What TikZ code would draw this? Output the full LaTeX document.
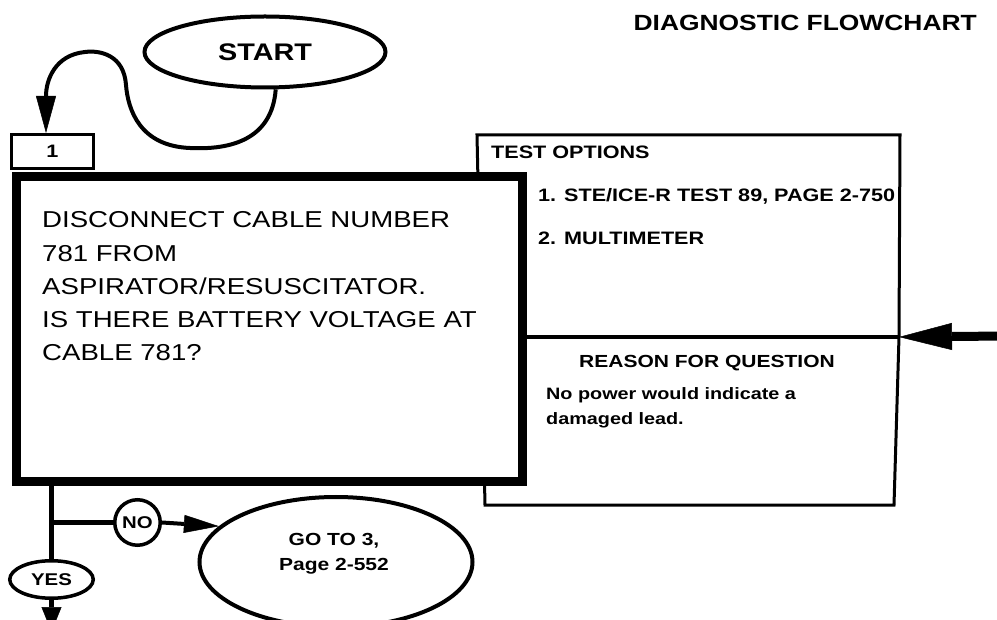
\documentclass[tikz,border=0pt]{standalone}
\usepackage{fontspec}
\setmainfont{Liberation Sans}[FakeStretch=1.2]
\usetikzlibrary{arrows.meta,shapes.geometric}
\tikzset{
  txt/.style={inner sep=0pt, anchor=north west, align=left},
  thinbox/.style={draw, line width=3pt},
  conn/.style={line width=4.5pt},
  oval/.style={ellipse, draw, line width=4pt, inner sep=0pt, fill=white},
}
\begin{document}
\begin{tikzpicture}[x=1pt,y=-1pt]
\useasboundingbox (0,0) rectangle (997,620);
\clip (0,0) rectangle (997,620);

% title
\node[inner sep=0pt, anchor=base east, font=\fontsize{22}{22}\selectfont\bfseries] (title) at (977,31)
  {DIAGNOSTIC FLOWCHART};

% test options / reason box (drawn first, partly hidden by main box)
\coordinate (divR) at (899,337);
\draw[line width=3pt, line join=miter] (477,135) -- (900,135) -- (divR) -- (894,505) -- (485,505) -- cycle;
\draw[line width=4.5pt] (480,337) -- (divR);

% main box
\node[draw, fill=white, line width=9pt, minimum width=506, minimum height=305, inner sep=0pt] (main) at (269.5,329) {};
\node[txt, font=\fontsize{23}{33.3}\selectfont] (body) at (42,211.5)
  {DISCONNECT CABLE NUMBER\\781 FROM\\ASPIRATOR/RESUSCITATOR.\\IS THERE BATTERY VOLTAGE AT\\CABLE 781?};

% box 1
\node[thinbox, fill=white, minimum width=82, minimum height=34, inner sep=0pt, font=\fontsize{18}{18}\selectfont\bfseries] (box1) at (52.5,151.5)
  {1};

% start
\node[oval, minimum width=241, minimum height=71, font=\fontsize{24}{24}\selectfont\bfseries] (start) at (265,52)
  {START};
\draw[line width=4pt, -{Triangle[length=37pt,width=20pt,line width=0.5pt]}]
  (start.-74) .. controls (272,140) and (230,150) .. (190,148)
  .. controls (140,146) and (128,110) .. (126,85)
  .. controls (124,55) and (100,50) .. (85,52)
  .. controls (55,55) and (46,80) .. ([xshift=36pt]box1.north west);

% test options texts
\node[txt, font=\fontsize{18}{18}\selectfont\bfseries] (topt) at (491,146) {TEST OPTIONS};
\node[txt, font=\fontsize{18}{18}\selectfont\bfseries] (opt1) at (538,188) {1. STE/ICE-R TEST 89, PAGE 2-750};
\node[txt, font=\fontsize{18}{18}\selectfont\bfseries] (opt2) at (538,232) {2. MULTIMETER};
\node[inner sep=0pt, anchor=north, font=\fontsize{17.5}{17.5}\selectfont\bfseries] (rfq) at (707,355) {REASON FOR QUESTION};
\node[txt, font=\fontsize{16.5}{25}\selectfont\bfseries] (reason) at (546,387) {No power would indicate a\\damaged lead.};

% incoming arrow from the right
\coordinate (rin) at (1005,336);
\draw[line width=9pt, -{Triangle[length=53pt,width=27pt,line width=0.5pt]}] (rin) -- (divR);

% decision branches
\node[oval, line width=3.5pt, minimum width=83.5, minimum height=37.5, font=\fontsize{17}{17}\selectfont\bfseries] (yes) at (51.5,579.5)
  {YES};
\node[circle, draw, line width=3.5pt, minimum size=45.5, inner sep=0pt, fill=white, font=\fontsize{17}{17}\selectfont\bfseries] (no) at (137.5,522.5)
  {NO};
\node[oval, minimum width=273, minimum height=130] (goto) at (336,562) {};
\node[inner sep=0pt, align=center, font=\fontsize{17.5}{25}\selectfont\bfseries] (gotot) at (334,554)
  {GO TO 3,\\Page 2-552};

\coordinate (junc) at (51.5,522.5);
\draw[conn] (main.south -| yes.north) -- (yes.north);
\draw[conn] (junc) -- (no.west);
\draw[line width=4pt, -{Triangle[length=35pt,width=18pt,line width=0.5pt]}] (no.east) -- (goto.163);
\draw[conn, -{Triangle[length=25pt,width=20pt,line width=0.5pt]}] (yes.south) -- ([yshift=-32pt]yes.south);
\end{tikzpicture}
\end{document}
